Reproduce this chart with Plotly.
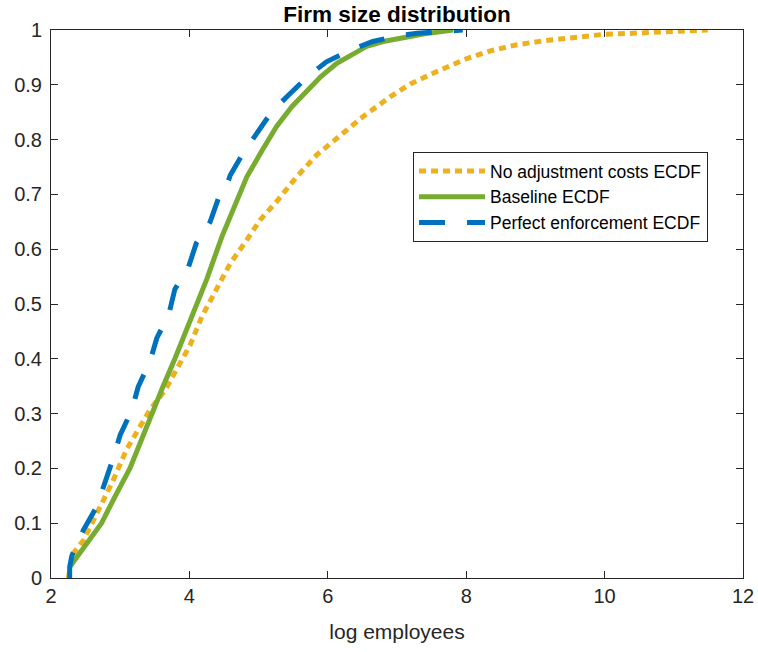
import plotly.graph_objects as go

# ---- data ----
noadj_x = [2.25, 2.32, 2.47, 2.71, 2.88, 3.09, 3.26, 3.43, 3.65, 3.82, 4.01, 4.18, 4.39, 4.59, 4.83,
           5.02, 5.26, 5.55, 5.84, 6.13, 6.51, 6.9, 7.2, 7.52, 8.01, 8.35, 8.73, 9.1, 9.45, 9.98,
           10.41, 11.0, 11.49]
noadj_y = [0.0, 0.045, 0.069, 0.13, 0.173, 0.234, 0.27, 0.307, 0.343, 0.383, 0.425, 0.477, 0.525,
           0.574, 0.617, 0.653, 0.687, 0.732, 0.772, 0.802, 0.842, 0.878, 0.902, 0.921, 0.948,
           0.962, 0.973, 0.98, 0.985, 0.992, 0.994, 0.997, 1.0]

base_x = [2.27, 2.45, 2.73, 2.93, 3.14, 3.3, 3.455, 3.62, 3.79, 3.95, 4.1, 4.25, 4.47, 4.59, 4.83,
          5.05, 5.26, 5.48, 5.70, 5.9, 6.13, 6.35, 6.56, 6.8, 7.04, 7.4, 7.81]
base_y = [0.02, 0.05, 0.1, 0.15, 0.2, 0.25, 0.3, 0.35, 0.4, 0.45, 0.5, 0.545, 0.623, 0.66, 0.732,
          0.78, 0.824, 0.86, 0.89, 0.915, 0.939, 0.956, 0.97, 0.979, 0.985, 0.993, 1.0]

perf_x = [2.27, 2.27, 2.30, 2.47, 2.66, 2.78, 2.90, 3.0, 3.17, 3.26, 3.43, 3.53, 3.70, 3.79, 3.98,
          4.1, 4.3, 4.42, 4.47, 4.55, 4.59, 4.76, 4.97, 5.19, 5.43, 5.71, 5.98, 6.32, 6.65, 7.04,
          7.29, 7.6, 7.95]
perf_y = [0.0, 0.02, 0.04, 0.088, 0.13, 0.173, 0.219, 0.261, 0.307, 0.349, 0.395, 0.438, 0.48,
          0.527, 0.565, 0.611, 0.65, 0.693, 0.71, 0.72, 0.735, 0.772, 0.811, 0.851, 0.881, 0.915,
          0.942, 0.963, 0.979, 0.99, 0.994, 0.997, 1.0]

x_ticks = [2, 4, 6, 8, 10, 12]
y_ticks = [0, 0.1, 0.2, 0.3, 0.4, 0.5, 0.6, 0.7, 0.8, 0.9, 1]
y_tick_labels = ["0", "0.1", "0.2", "0.3", "0.4", "0.5", "0.6", "0.7", "0.8", "0.9", "1"]

FONT = "Liberation Sans, Arial, Helvetica, sans-serif"
AXC = "#262626"

fig = go.Figure()
fig.add_trace(go.Scatter(x=noadj_x, y=noadj_y, mode="lines", name="No adjustment costs ECDF",
                         line=dict(color="#EDB120", width=5, dash="7px,5px")))
fig.add_trace(go.Scatter(x=base_x, y=base_y, mode="lines", name="Baseline ECDF",
                         line=dict(color="#77AC30", width=5)))
fig.add_trace(go.Scatter(x=perf_x, y=perf_y, mode="lines", name="Perfect enforcement ECDF",
                         line=dict(color="#0072BD", width=5, dash="26px,22px")))

fig.update_layout(
    width=758, height=652,
    margin=dict(l=51, r=15, t=30, b=74),
    paper_bgcolor="white", plot_bgcolor="white",
    font=dict(family=FONT, color=AXC, size=20),
    title=dict(text="Firm size distribution", x=0.5, xref="paper", xanchor="center",
               y=1 - 14 / 652, yanchor="middle",
               font=dict(family=FONT, size=22.5, color="black", weight="bold")),
    showlegend=True,
    legend=dict(x=(413 - 51) / 692, y=1 - (152 - 30) / 548, xanchor="left", yanchor="top",
                bgcolor="white", bordercolor=AXC, borderwidth=1,
                font=dict(family=FONT, size=17.5, color="black"),
                itemwidth=66, tracegroupgap=0),
    xaxis=dict(range=[2, 12], tickvals=x_ticks, ticks="inside", ticklen=7, tickcolor=AXC,
               showline=True, linecolor=AXC, linewidth=1, mirror="ticks", showgrid=False,
               zeroline=False, tickfont=dict(size=20, color=AXC), automargin=False,
               title=dict(text="log employees", font=dict(size=21, color=AXC), standoff=18)),
    yaxis=dict(range=[0, 1], tickvals=y_ticks, ticktext=y_tick_labels, ticks="inside", ticklen=7,
               tickcolor=AXC, showline=True, linecolor=AXC, linewidth=1, mirror="ticks",
               showgrid=False, zeroline=False, tickfont=dict(size=20, color=AXC),
               ticklabelstandoff=4, automargin=False),
)

fig.write_html("out.html", config={"displayModeBar": False},
               post_script="document.body.style.margin='0';document.body.style.padding='0';")
